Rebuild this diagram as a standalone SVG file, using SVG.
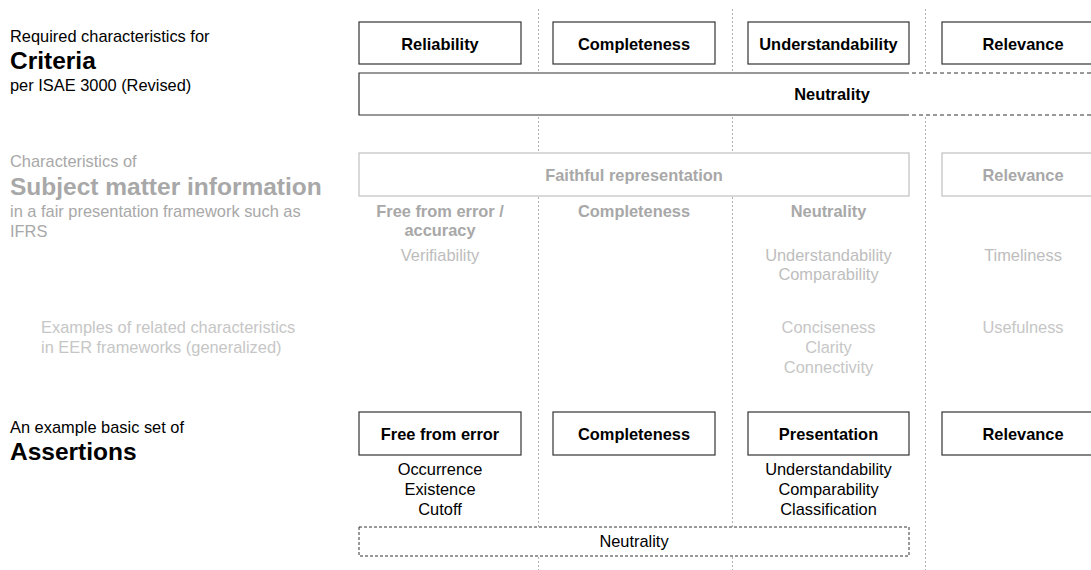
<svg xmlns="http://www.w3.org/2000/svg" width="1091" height="570" viewBox="0 0 1091 570">
<style>
text{font-family:"Liberation Sans",Arial,sans-serif;font-size:16.4px}
.b{font-weight:bold}
.h{font-weight:bold;font-size:24.5px}
.c{text-anchor:middle}
.k{fill:#000}
.g1{fill:#a8a8a8}
.g2{fill:#bdbdbd}
.g3{fill:#c6c6c6}
.box{fill:#fff;stroke:#333;stroke-width:1.2}
.gbox{fill:#fff;stroke:#c0c0c0;stroke-width:1.2}
.grid{stroke:#b0b0b0;stroke-width:1;stroke-dasharray:2,2;fill:none}
.dash{stroke:#333;stroke-width:1;stroke-dasharray:4,3;fill:none}
</style>
<rect width="1091" height="570" fill="#fff"/>
<g id="connectors">
<line class="grid" x1="538.5" y1="9" x2="538.5" y2="570"/>
<line class="grid" x1="732.5" y1="9" x2="732.5" y2="570"/>
<line class="grid" x1="925.5" y1="9" x2="925.5" y2="570"/>
</g>
<g id="labels">
<text class="k" x="10" y="42">Required characteristics for</text>
<text class="k h" x="10" y="69">Criteria</text>
<text class="k" x="10" y="91">per ISAE 3000 (Revised)</text>
<text class="g1" x="10" y="167">Characteristics of</text>
<text class="g1 h" x="10" y="195">Subject matter information</text>
<text class="g1" x="10" y="217">in a fair presentation framework such as</text>
<text class="g1" x="10" y="237">IFRS</text>
<text class="g3" x="41" y="333">Examples of related characteristics</text>
<text class="g3" x="41" y="353">in EER frameworks (generalized)</text>
<text class="k" x="10" y="433">An example basic set of</text>
<text class="k h" x="10" y="460">Assertions</text>
</g>
<g id="crit-reliability"><rect class="box" x="359" y="22" width="162" height="42"/><text class="k b c" x="440" y="49.5">Reliability</text></g>
<g id="crit-completeness"><rect class="box" x="553" y="22" width="162" height="42"/><text class="k b c" x="634" y="49.5">Completeness</text></g>
<g id="crit-understandability"><rect class="box" x="748" y="22" width="161" height="42"/><text class="k b c" x="828.5" y="49.5">Understandability</text></g>
<g id="crit-relevance"><rect class="box" x="942" y="22" width="162" height="42"/><text class="k b c" x="1023" y="49.5">Relevance</text></g>
<g id="crit-neutrality">
<rect x="359" y="73" width="740" height="42" fill="#fff"/>
<path d="M905 73 H359 V115 H905" fill="none" stroke="#333" stroke-width="1.2"/>
<line class="dash" x1="905" y1="73" x2="1091" y2="73"/>
<line class="dash" x1="905" y1="115" x2="1091" y2="115"/>
<text class="k b c" x="832" y="100">Neutrality</text>
</g>
<g id="smi-faithful"><rect class="gbox" x="359" y="153" width="550" height="43"/><text class="g1 b c" x="634" y="181">Faithful representation</text></g>
<g id="smi-relevance"><rect class="gbox" x="942" y="153" width="162" height="43"/><text class="g1 b c" x="1023" y="181">Relevance</text></g>
<g id="smi-col1">
<text class="g1 b c" x="440" y="217">Free from error /</text>
<text class="g1 b c" x="440" y="236">accuracy</text>
<text class="g2 c" x="440" y="261">Verifiability</text>
</g>
<g id="smi-col2"><text class="g1 b c" x="634" y="217">Completeness</text></g>
<g id="smi-col3">
<text class="g1 b c" x="828.5" y="217">Neutrality</text>
<text class="g2 c" x="828.5" y="261">Understandability</text>
<text class="g2 c" x="828.5" y="280">Comparability</text>
</g>
<g id="smi-col4"><text class="g2 c" x="1023" y="261">Timeliness</text></g>
<g id="eer-col3">
<text class="g3 c" x="828.5" y="333">Conciseness</text>
<text class="g3 c" x="828.5" y="353">Clarity</text>
<text class="g3 c" x="828.5" y="373">Connectivity</text>
</g>
<g id="eer-col4"><text class="g3 c" x="1023" y="333">Usefulness</text></g>
<g id="as-free"><rect class="box" x="359" y="412" width="162" height="43"/><text class="k b c" x="440" y="440">Free from error</text>
<text class="k c" x="440" y="475">Occurrence</text>
<text class="k c" x="440" y="495">Existence</text>
<text class="k c" x="440" y="515">Cutoff</text></g>
<g id="as-completeness"><rect class="box" x="553" y="412" width="162" height="43"/><text class="k b c" x="634" y="440">Completeness</text></g>
<g id="as-presentation"><rect class="box" x="748" y="412" width="161" height="43"/><text class="k b c" x="828.5" y="440">Presentation</text>
<text class="k c" x="828.5" y="475">Understandability</text>
<text class="k c" x="828.5" y="495">Comparability</text>
<text class="k c" x="828.5" y="515">Classification</text></g>
<g id="as-relevance"><rect class="box" x="942" y="412" width="162" height="43"/><text class="k b c" x="1023" y="440">Relevance</text></g>
<g id="as-neutrality"><rect x="359" y="527" width="550" height="29" fill="#fff" stroke="#333" stroke-width="1" stroke-dasharray="3,2"/><text class="k c" x="634" y="547">Neutrality</text></g>
</svg>
